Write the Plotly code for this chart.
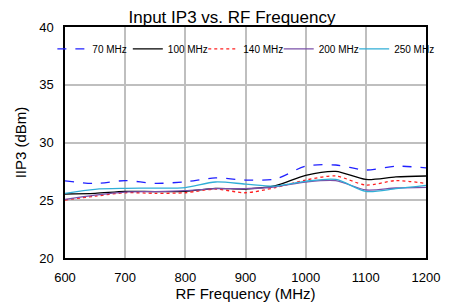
import plotly.graph_objects as go

freq = [600, 650, 700, 750, 800, 850, 900, 950, 1000, 1050, 1100, 1150, 1200]
iip3_70 = [26.67, 26.45, 26.7, 26.46, 26.6, 26.93, 26.75, 26.85, 27.95, 28.05, 27.62, 27.95, 27.8]
iip3_100 = [25.54, 25.6, 25.77, 25.75, 25.77, 26.03, 25.97, 26.26, 27.15, 27.5, 26.8, 27.02, 27.1]
iip3_140 = [25.02, 25.35, 25.65, 25.6, 25.65, 25.97, 25.65, 26.1, 26.75, 27.1, 26.32, 26.7, 26.46]
iip3_200 = [25.08, 25.45, 25.71, 25.75, 25.83, 26.0, 26.0, 26.17, 26.58, 26.7, 25.89, 26.06, 26.12]
iip3_250 = [25.6, 25.95, 26.03, 26.05, 26.1, 26.58, 26.4, 26.23, 26.64, 26.8, 25.77, 26.0, 26.29]

series = [
    ("70 MHz", iip3_70, "#2020FF", "dash"),
    ("100 MHz", iip3_100, "#000000", "solid"),
    ("140 MHz", iip3_140, "#FF2020", "dot"),
    ("200 MHz", iip3_200, "#7A50A8", "solid"),
    ("250 MHz", iip3_250, "#30AED6", "solid"),
]

legend_ids = ["legend", "legend2", "legend3", "legend4", "legend5"]
legend_x = [-0.035, 0.174, 0.383, 0.592, 0.801]  # paper fractions

fig = go.Figure()
for (name, vals, color, dash), lid in zip(series, legend_ids):
    fig.add_trace(go.Scatter(
        x=freq, y=vals, name=name, mode="lines", legend=lid,
        line=dict(color=color, dash=dash, width=1.3, shape="spline", smoothing=0.8),
    ))

font = "Liberation Sans, Arial, sans-serif"
layout_legends = {}
for lid, lx in zip(legend_ids, legend_x):
    layout_legends[lid] = dict(
        orientation="h", x=lx, xanchor="left",
        y=0.905, yanchor="middle", font=dict(size=10),
        bgcolor="rgba(0,0,0,0)", borderwidth=0,
    )

fig.update_layout(
    width=448, height=295,
    margin=dict(l=57, r=30, t=19, b=45),
    paper_bgcolor="white", plot_bgcolor="white",
    font=dict(family=font, size=13, color="#000000"),
    title=dict(text="Input IP3 vs. RF Frequency", x=0.5, xanchor="center",
               y=0.969, yanchor="middle", font=dict(size=17)),
    showlegend=True,
    **layout_legends,
)
fig.update_xaxes(
    range=[600, 1200], dtick=100, tick0=600, automargin=False,
    showgrid=True, gridcolor="#BFBFBF", gridwidth=1.5,
    showline=True, linecolor="black", linewidth=1.5, mirror=True,
    ticks="", ticklabelstandoff=7, zeroline=False,
    title=dict(text="RF Frequency (MHz)", font=dict(size=15), standoff=0),
    tickfont=dict(size=13),
)
fig.update_yaxes(
    range=[20, 40], dtick=5, automargin=False,
    showgrid=True, gridcolor="#BFBFBF", gridwidth=1.5,
    showline=True, linecolor="black", linewidth=1.5, mirror=True,
    ticks="", ticklabelstandoff=7,
    title=dict(text="IIP3 (dBm)", font=dict(size=15), standoff=9),
    tickfont=dict(size=13), zeroline=False,
)
fig.write_html("out.html")
